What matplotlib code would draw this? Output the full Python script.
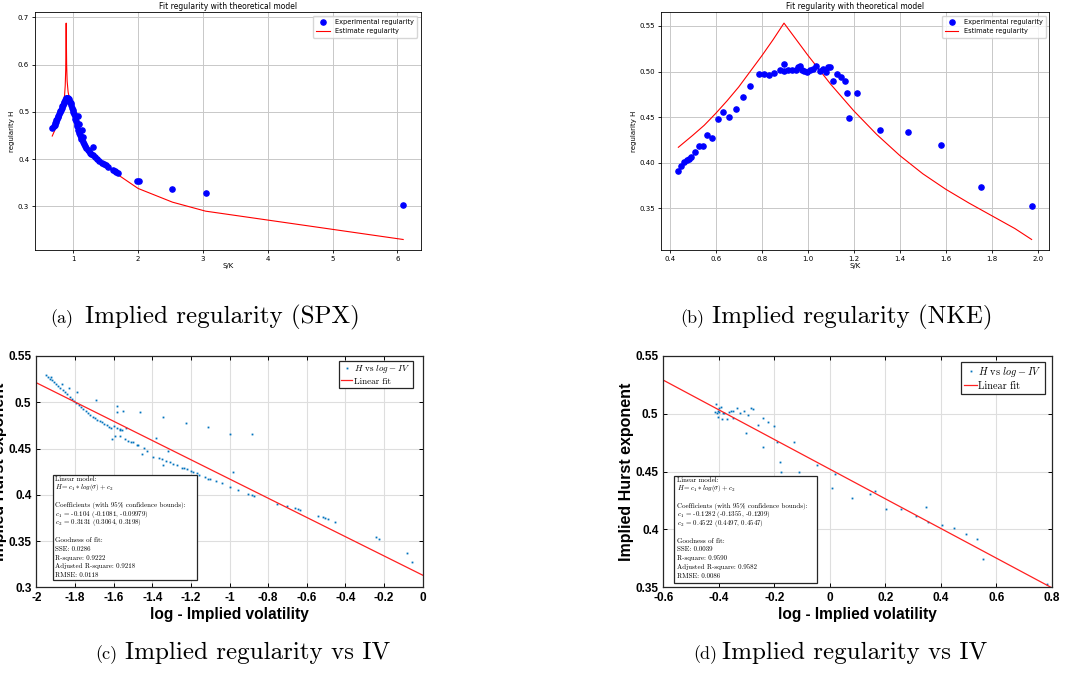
import numpy as np
import matplotlib
matplotlib.use('Agg')
import matplotlib.pyplot as plt
from matplotlib.patches import Rectangle
from matplotlib.ticker import FormatStrFormatter

plt.rcParams['mathtext.fontset'] = 'cm'
plt.rcParams['axes.unicode_minus'] = False

# ---- (a) SPX: regularity vs S/K ----
spx_sk = [0.675, 0.700, 0.710, 0.720, 0.730, 0.740, 0.750, 0.760, 0.770, 0.780,
          0.790, 0.800, 0.810, 0.820, 0.830, 0.840, 0.850, 0.860, 0.870, 0.880,
          0.890, 0.900, 0.910, 0.920, 0.930, 0.940, 0.950, 0.960, 0.970, 0.980,
          0.990, 1.000, 1.010, 1.020, 1.030, 1.040, 1.050, 1.060, 1.072, 1.080,
          1.087, 1.095, 1.105, 1.115, 1.125, 1.139, 1.145, 1.154, 1.165, 1.180,
          1.200, 1.220, 1.240, 1.260, 1.280, 1.300, 1.309, 1.330, 1.360, 1.400,
          1.440, 1.470, 1.500, 1.530, 1.610, 1.640, 1.660, 1.690, 1.990, 2.020,
          2.530, 3.040, 6.090]
spx_h = [0.466, 0.470, 0.473, 0.476, 0.479, 0.482, 0.485, 0.489, 0.492, 0.495,
         0.499, 0.502, 0.505, 0.509, 0.512, 0.515, 0.519, 0.522, 0.525, 0.527,
         0.529, 0.530, 0.530, 0.529, 0.527, 0.524, 0.521, 0.518, 0.514, 0.509,
         0.505, 0.500, 0.496, 0.491, 0.486, 0.480, 0.475, 0.470, 0.491, 0.462,
         0.474, 0.455, 0.451, 0.447, 0.443, 0.462, 0.437, 0.447, 0.432, 0.428,
         0.424, 0.420, 0.417, 0.414, 0.411, 0.408, 0.426, 0.404, 0.400, 0.396,
         0.391, 0.389, 0.388, 0.384, 0.378, 0.375, 0.373, 0.370, 0.354, 0.353,
         0.337, 0.328, 0.304]
spx_fit_sk = [0.675, 0.72, 0.76, 0.80, 0.83, 0.85, 0.865, 0.875, 0.883, 0.89,
              0.897, 0.905, 0.92, 0.95, 1.00, 1.05, 1.10, 1.15, 1.20, 1.30,
              1.40, 1.55, 1.70, 2.00, 2.53, 3.04, 6.09]
spx_fit_h = [0.449, 0.463, 0.478, 0.494, 0.508, 0.520, 0.535, 0.555, 0.590, 0.688,
             0.600, 0.565, 0.542, 0.522, 0.502, 0.483, 0.465, 0.448, 0.433, 0.411,
             0.397, 0.382, 0.366, 0.338, 0.309, 0.290, 0.230]

# ---- (b) NKE: regularity vs S/K ----
nke_sk = [0.438, 0.451, 0.464, 0.477, 0.485, 0.494, 0.509, 0.526, 0.543, 0.564,
          0.584, 0.609, 0.632, 0.658, 0.687, 0.717, 0.750, 0.788, 0.811, 0.830,
          0.855, 0.878, 0.897, 0.897, 0.914, 0.931, 0.950, 0.957, 0.965, 0.976,
          0.986, 0.998, 1.011, 1.023, 1.037, 1.052, 1.066, 1.079, 1.089, 1.097,
          1.111, 1.128, 1.143, 1.160, 1.170, 1.179, 1.214, 1.315, 1.435, 1.579,
          1.754, 1.973]
nke_h = [0.391, 0.396, 0.401, 0.403, 0.404, 0.406, 0.412, 0.418, 0.418, 0.430,
         0.427, 0.448, 0.456, 0.450, 0.459, 0.472, 0.484, 0.497, 0.497, 0.496,
         0.498, 0.502, 0.508, 0.501, 0.502, 0.502, 0.502, 0.505, 0.506, 0.502,
         0.501, 0.500, 0.502, 0.503, 0.506, 0.501, 0.503, 0.499, 0.505, 0.505,
         0.490, 0.497, 0.494, 0.490, 0.476, 0.449, 0.476, 0.436, 0.434, 0.420,
         0.374, 0.353]
nke_fit_sk = [0.438, 0.50, 0.55, 0.60, 0.65, 0.70, 0.75, 0.80, 0.85, 0.897,
              0.95, 1.00, 1.05, 1.10, 1.20, 1.30, 1.40, 1.50, 1.60, 1.70,
              1.80, 1.90, 1.973]
nke_fit_h = [0.417, 0.430, 0.441, 0.454, 0.468, 0.483, 0.500, 0.517, 0.535, 0.553,
             0.535, 0.518, 0.502, 0.486, 0.457, 0.431, 0.408, 0.388, 0.371, 0.356,
             0.342, 0.328, 0.316]

# ---- (c) SPX: H vs log implied volatility ----
spx_logiv = [-1.950, -1.940, -1.930, -1.920, -1.910, -1.900, -1.888, -1.876, -1.864, -1.852,
             -1.840, -1.828, -1.816, -1.804, -1.792, -1.780, -1.768, -1.756, -1.744, -1.732,
             -1.720, -1.708, -1.696, -1.684, -1.672, -1.660, -1.648, -1.636, -1.624, -1.612,
             -1.925, -1.869, -1.829, -1.791, -1.691, -1.584, -1.584, -1.550, -1.463, -1.343,
             -1.225, -1.110, -0.997, -0.885, -1.382, -1.317, -0.984,
             -1.596, -1.580, -1.567, -1.555, -1.536, -1.565,
             -1.610, -1.593, -1.567, -1.541, -1.527, -1.512, -1.498, -1.481, -1.472, -1.455,
             -1.441, -1.427, -1.398, -1.365, -1.351, -1.343, -1.330, -1.308, -1.291, -1.273,
             -1.248, -1.235, -1.222, -1.201, -1.187, -1.170, -1.156, -1.127, -1.110, -1.101,
             -1.070, -1.041, -0.997, -0.958, -0.903, -0.885, -0.871, -0.752, -0.701, -0.661,
             -0.647, -0.635, -0.540, -0.518, -0.506, -0.492, -0.454, -0.242, -0.224, -0.083,
             -0.054]
spx_hurst = [0.5290, 0.5272, 0.5255, 0.5236, 0.5218, 0.5199, 0.5177, 0.5154, 0.5131, 0.5108,
             0.5085, 0.5062, 0.5040, 0.5017, 0.4994, 0.4972, 0.4950, 0.4928, 0.4907, 0.4887,
             0.4866, 0.4846, 0.4828, 0.4812, 0.4797, 0.4783, 0.4768, 0.4752, 0.4737, 0.4724,
             0.5270, 0.5197, 0.5150, 0.5115, 0.5025, 0.4963, 0.4898, 0.4909, 0.4898, 0.4837,
             0.4772, 0.4736, 0.4657, 0.4657, 0.4614, 0.4470, 0.4250,
             0.4740, 0.4720, 0.4700, 0.4705, 0.4718, 0.4715,
             0.4600, 0.4640, 0.4635, 0.4600, 0.4585, 0.4574, 0.4567, 0.4538, 0.4538, 0.4445,
             0.4506, 0.4477, 0.4412, 0.4400, 0.4383, 0.4322, 0.4369, 0.4351, 0.4333, 0.4326,
             0.4293, 0.4285, 0.4275, 0.4257, 0.4243, 0.4232, 0.4218, 0.4196, 0.4174, 0.4167,
             0.4146, 0.4124, 0.4088, 0.4052, 0.4009, 0.4000, 0.3991, 0.3900, 0.3883, 0.3854,
             0.3847, 0.3836, 0.3771, 0.3757, 0.3746, 0.3735, 0.3703, 0.3540, 0.3526, 0.3367,
             0.3277]
spx_c1, spx_c2 = -0.104, 0.3131

# ---- (d) NKE: H vs log implied volatility ----
nke_logiv = [-0.411, -0.414, -0.408, -0.404, -0.401, -0.404, -0.398, -0.393, -0.390, -0.386,
             -0.380, -0.372, -0.362, -0.356, -0.350, -0.350, -0.336, -0.324, -0.309, -0.302,
             -0.294, -0.285, -0.278, -0.258, -0.242, -0.240, -0.221, -0.200, -0.189, -0.179,
             -0.177, -0.129, -0.111, -0.047, 0.007, 0.019, 0.081, 0.145, 0.163, 0.201,
             0.256, 0.311, 0.347, 0.355, 0.403, 0.449, 0.490, 0.530, 0.551, 0.782]
nke_hurst = [0.5082, 0.5019, 0.5010, 0.5027, 0.5019, 0.4976, 0.5048, 0.5062, 0.4955, 0.5010,
             0.5004, 0.4955, 0.5019, 0.5025, 0.5027, 0.4961, 0.5053, 0.5010, 0.5027, 0.4837,
             0.4990, 0.5048, 0.5045, 0.4903, 0.4716, 0.4961, 0.4932, 0.4895, 0.4759, 0.4586,
             0.4497, 0.4754, 0.4497, 0.4561, 0.4362, 0.4480, 0.4272, 0.4304, 0.4336, 0.4180,
             0.4180, 0.4120, 0.4197, 0.4068, 0.4039, 0.4010, 0.3964, 0.3915, 0.3745, 0.3529]
nke_c1, nke_c2 = -0.1282, 0.4522

spx_xticks = [-2, -1.8, -1.6, -1.4, -1.2, -1, -0.8, -0.6, -0.4, -0.2, 0]
spx_yticks = [0.3, 0.35, 0.4, 0.45, 0.5, 0.55]
nke_xticks = [-0.6, -0.4, -0.2, 0, 0.2, 0.4, 0.6, 0.8]
nke_yticks = [0.35, 0.4, 0.45, 0.5, 0.55]

spx_info = ['Linear model:',
            r'$H = c_1 * log(\sigma) + c_2$',
            '',
            'Coefficients (with 95% confidence bounds):',
            r'$c_1$ = -0.104 (-0.1081, -0.09979)',
            r'$c_2$ = 0.3131 (0.3064, 0.3198)',
            '',
            'Goodness of fit:',
            'SSE: 0.0286',
            'R-square: 0.9222',
            'Adjusted R-square: 0.9218',
            'RMSE: 0.0118']
nke_info = ['Linear model:',
            r'$H = c_1 * log(\sigma) + c_2$',
            '',
            'Coefficients (with 95% confidence bounds):',
            r'$c_1$ = -0.1282 (-0.1355, -0.1209)',
            r'$c_2$ = 0.4522 (0.4497, 0.4547)',
            '',
            'Goodness of fit:',
            'SSE: 0.0039',
            'R-square: 0.9590',
            'Adjusted R-square: 0.9582',
            'RMSE: 0.0086']

W, H = 1077, 673
fig = plt.figure(figsize=(W / 100, H / 100), dpi=100)


def px_rect(l, t, r, b):
    return [l / W, 1 - b / H, (r - l) / W, (b - t) / H]


def top_panel(rect, sk, h, fit_sk, fit_h, ylab_x):
    ax = fig.add_axes(rect)
    ax.scatter(sk, h, s=14, color='blue', label='Experimental regularity', zorder=3)
    ax.plot(fit_sk, fit_h, color='red', lw=0.8, label='Estimate regularity', zorder=2)
    ax.grid(True, color='#c8c8c8', lw=0.7)
    ax.set_axisbelow(True)
    ax.set_title('Fit regularity with theoretical model', fontsize=5.5, pad=2.5)
    ax.set_xlabel('S/K', fontsize=5)
    ax.set_ylabel('regularity H', fontsize=5)
    ax.xaxis.set_label_coords(0.5, -0.055)
    ax.yaxis.set_label_coords(ylab_x, 0.5)
    ax.tick_params(labelsize=5, length=2, width=0.6, pad=2)
    for s in ax.spines.values():
        s.set_linewidth(0.6)
    ax.legend(loc='upper right', fontsize=4.8, borderpad=0.5)
    return ax


def bottom_panel(rect, logiv, hurst, c1, c2, xlim, ylim, xticks, yticks,
                 leg_anchor, leg_fs, info, box, text_x, text_y0):
    ax = fig.add_axes(rect)
    ax.plot(logiv, hurst, ls='none', marker='s', ms=1.3, mec='none',
            color='#0072BD', label=r'$H$ vs $log-IV$')
    xs = np.array(xlim)
    ax.plot(xs, c1 * xs + c2, color='#ff2020', lw=0.9, label='Linear fit')
    ax.set_xlim(xlim)
    ax.set_ylim(ylim)
    ax.set_xticks(xticks)
    ax.set_yticks(yticks)
    ax.xaxis.set_major_formatter(FormatStrFormatter('%g'))
    ax.yaxis.set_major_formatter(FormatStrFormatter('%g'))
    ax.grid(True, color='#dedede', lw=0.8)
    ax.set_axisbelow(True)
    ax.tick_params(direction='in', length=3, width=0.7, top=True, right=True,
                   labelsize=8.5, pad=3.5)
    for lab in ax.get_xticklabels() + ax.get_yticklabels():
        lab.set_fontfamily('Liberation Sans')
        lab.set_fontweight('bold')
    for s in ax.spines.values():
        s.set_linewidth(0.9)
        s.set_color('#262626')
    ax.set_xlabel('log - Implied volatility', fontsize=11.2, fontweight='bold',
                  fontfamily='Liberation Sans')
    ax.set_ylabel('Implied Hurst exponent', fontsize=11.5, fontweight='bold',
                  fontfamily='Liberation Sans')
    ax.xaxis.set_label_coords(0.5, -0.085)
    ax.yaxis.set_label_coords(-0.075, 0.5)
    leg = ax.legend(loc='upper right', bbox_to_anchor=leg_anchor, borderaxespad=0,
                    prop={'family': 'cmr10', 'size': leg_fs}, fancybox=False,
                    edgecolor='#262626', framealpha=1, handlelength=1.2,
                    handletextpad=0.15, borderpad=0.3, labelspacing=0.2, numpoints=1)
    leg.get_frame().set_linewidth(0.9)
    x0, y0, x1, y1 = box
    ax.add_patch(Rectangle((x0, y0), x1 - x0, y1 - y0, transform=ax.transAxes,
                           facecolor='white', edgecolor='#262626', lw=0.9, zorder=5))
    for i, line in enumerate(info):
        if line:
            ax.text(text_x, text_y0 - i * 0.0376, line, transform=ax.transAxes,
                    fontsize=5.0, family='cmr10', va='center', ha='left', zorder=6)
    return ax


top_panel(px_rect(34.7, 12.3, 420.7, 250.3), spx_sk, spx_h, spx_fit_sk, spx_fit_h, -0.051)
top_panel(px_rect(660.7, 12.3, 1049.3, 250.3), nke_sk, nke_h, nke_fit_sk, nke_fit_h, -0.061)

bottom_panel(px_rect(36.3, 356, 422.7, 587.3), spx_logiv, spx_hurst, spx_c1, spx_c2,
             (-2, 0), (0.3, 0.55), spx_xticks, spx_yticks,
             (0.974, 0.98), 6.5, spx_info, (0.044, 0.032, 0.415, 0.484), 0.049, 0.467)
bottom_panel(px_rect(663.3, 356, 1051.7, 587.3), nke_logiv, nke_hurst, nke_c1, nke_c2,
             (-0.6, 0.8), (0.35, 0.55), nke_xticks, nke_yticks,
             (0.983, 0.974), 7.4, nke_info, (0.0275, 0.017, 0.395, 0.481), 0.0345, 0.464)

captions = [(50, 85, 323, '(a)', 'Implied regularity (SPX)'),
            (680, 712, 323, '(b)', 'Implied regularity (NKE)'),
            (95, 125, 659, '(c)', 'Implied regularity vs IV'),
            (693, 722, 659, '(d)', 'Implied regularity vs IV')]
for xs_, xm, yb, tag, txt in captions:
    fig.text(xs_ / W, 1 - yb / H, tag, family='cmr10', fontsize=13, va='baseline')
    fig.text(xm / W, 1 - yb / H, txt, family='cmr10', fontsize=18, va='baseline')

fig.savefig('out.png', dpi=100)
